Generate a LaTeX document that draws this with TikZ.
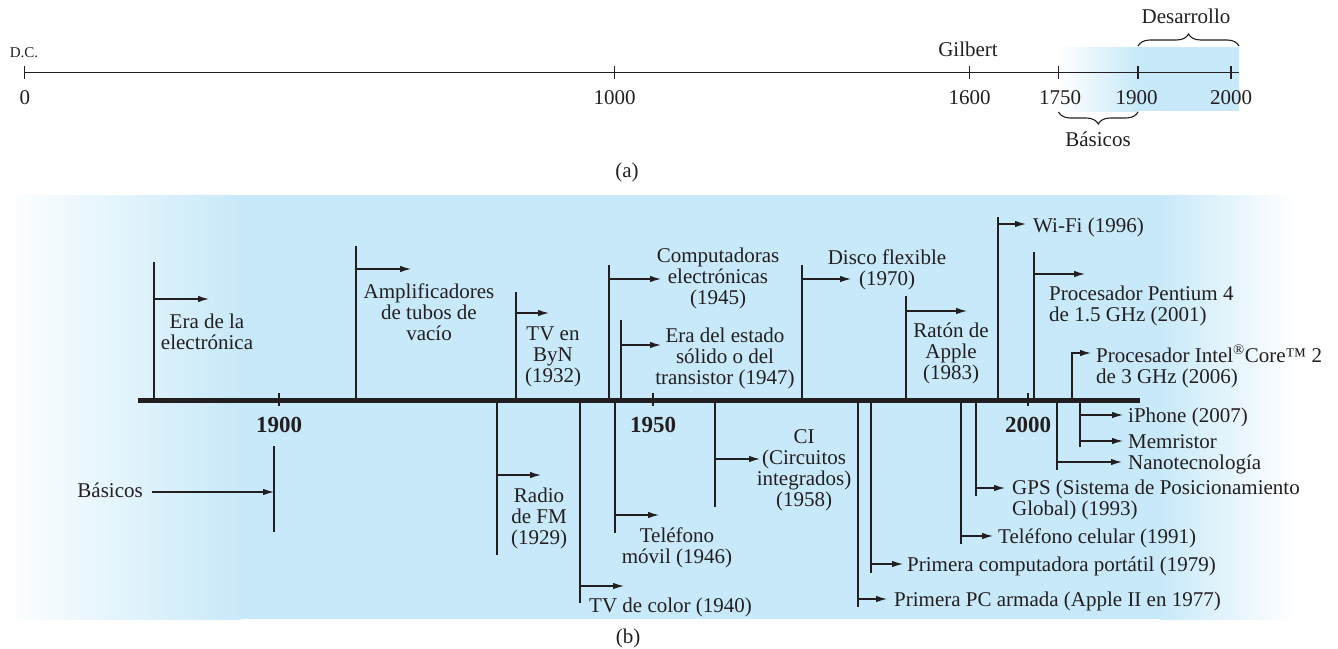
\documentclass[tikz,border=0pt]{standalone}
\usepackage{fontspec}
\setmainfont{Liberation Serif}
\usetikzlibrary{arrows.meta,decorations.pathreplacing}
\definecolor{panelblue}{RGB}{200,233,249}
\definecolor{ink}{RGB}{35,31,32}
\tikzset{
  evline/.style={line width=1.2pt, draw=ink},
  evarrow/.style={line width=1.2pt, draw=ink, -{Latex[length=11pt,width=6.5pt]}},
  lbl/.style={font=\fontsize{21}{21}\selectfont, text=ink, inner sep=0pt, align=center, anchor=base},
  lbll/.style={font=\fontsize{21}{21}\selectfont, text=ink, inner sep=0pt, align=left, anchor=base west},
  yearlbl/.style={font=\fontsize{23}{23}\selectfont\bfseries, text=ink, inner sep=0pt, anchor=base},
  thinaxis/.style={line width=1.1pt, draw=ink},
  thickaxis/.style={line width=4.3pt, draw=ink},
  tickmark/.style={line width=1.1pt, draw=ink},
  bracesty/.style={line width=1.1pt, draw=ink, decorate, decoration={brace, amplitude=12pt}}
}
\begin{document}
\begin{tikzpicture}[x=1pt, y=-1pt]
\useasboundingbox (0,0) rectangle (1338,648);
\fill[white] (0,0) rectangle (1338,648);

% ---------- (a) ----------
\shade[left color=white, right color=panelblue] (1058,47) rectangle (1138.5,111);
\fill[panelblue] (1138,47) rectangle (1239,111);

\coordinate (a0) at (24.8,72.7);
\coordinate (aend) at (1239,72.7);
\draw[thinaxis] (a0) -- (aend);
\foreach \n/\x in {t0/24.8, t1000/614.5, t1600/969.5, t1750/1058.5, t1900/1138, t2000/1231}{
  \coordinate (\n u) at (\x,66);
  \coordinate (\n d) at (\x,79);
  \draw[tickmark] (\n u) -- (\n d);
}
\node[font=\fontsize{15}{15}\selectfont, text=ink, inner sep=0pt, anchor=base] (dc) at (24,57) {D.C.};
\node[lbl] (n0) at (24.8,104) {0};
\node[lbl] (n1000) at (614.5,104) {1000};
\node[lbl] (n1600) at (969.5,104) {1600};
\node[lbl] (n1750) at (1060,104) {1750};
\node[lbl] (n1900) at (1136.5,104) {1900};
\node[lbl] (n2000) at (1231,104) {2000};
\node[lbl] (gil) at (968,56) {Gilbert};

\coordinate (desL) at (1138,46);
\coordinate (desR) at (1239,46);
\draw[bracesty] (desL) -- (desR);
\node[lbl] (des) at (1186,23) {Desarrollo};
\coordinate (basL) at (1058.5,112);
\coordinate (basR) at (1138,112);
\draw[bracesty] (basR) -- (basL);
\node[lbl] (bas) at (1098,146) {Básicos};
\node[lbl] (cap a) at (627,177) {(a)};

% ---------- (b) background ----------
\shade[left color=white, right color=panelblue] (0,195) rectangle (240.5,619);
\fill[panelblue] (240,195) rectangle (1160.5,619);
\shade[left color=panelblue, right color=white] (1160,195) rectangle (1295,619);

% ---------- events above the axis ----------
% Era de la electronica
\coordinate (e1b) at (154,401); \coordinate (e1t) at (154,262);
\coordinate (e1a) at (154,299); \coordinate (e1h) at (209,299);
\draw[evline] (e1b) -- (e1t); \draw[evarrow] (e1a) -- (e1h);
\node[lbl] (e1) at (207,349) {Era de la\\electrónica};
% Amplificadores
\coordinate (e2b) at (356,401); \coordinate (e2t) at (356,246);
\coordinate (e2a) at (356,269); \coordinate (e2h) at (411,269);
\draw[evline] (e2b) -- (e2t); \draw[evarrow] (e2a) -- (e2h);
\node[lbl] (e2) at (429,340) {Amplificadores\\de tubos de\\vacío};
% TV en ByN
\coordinate (e3b) at (516,401); \coordinate (e3t) at (516,292);
\coordinate (e3a) at (516,313); \coordinate (e3h) at (549,313);
\draw[evline] (e3b) -- (e3t); \draw[evarrow] (e3a) -- (e3h);
\node[lbl] (e3) at (553,382) {TV en\\ByN\\(1932)};
% Computadoras
\coordinate (e4b) at (609,401); \coordinate (e4t) at (609,265);
\coordinate (e4a) at (609,279); \coordinate (e4h) at (661,279);
\draw[evline] (e4b) -- (e4t); \draw[evarrow] (e4a) -- (e4h);
\node[lbl] (e4) at (718,304) {Computadoras\\electrónicas\\(1945)};
% Estado solido
\coordinate (e5b) at (621,401); \coordinate (e5t) at (621,320);
\coordinate (e5a) at (621,345); \coordinate (e5h) at (661,345);
\draw[evline] (e5b) -- (e5t); \draw[evarrow] (e5a) -- (e5h);
\node[lbl] (e5) at (725,384) {Era del estado\\sólido o del\\transistor (1947)};
% Disco flexible
\coordinate (e6b) at (802,401); \coordinate (e6t) at (802,265);
\coordinate (e6a) at (802,279); \coordinate (e6h) at (851,279);
\draw[evline] (e6b) -- (e6t); \draw[evarrow] (e6a) -- (e6h);
\node[lbl] (e6) at (887,285) {Disco flexible\\(1970)};
% Raton de Apple
\coordinate (e7b) at (906,401); \coordinate (e7t) at (906,296);
\coordinate (e7a) at (906,311); \coordinate (e7h) at (967,311);
\draw[evline] (e7b) -- (e7t); \draw[evarrow] (e7a) -- (e7h);
\node[lbl] (e7) at (951,379) {Ratón de\\Apple\\(1983)};
% Wi-Fi
\coordinate (e8b) at (998,401); \coordinate (e8t) at (998,217);
\coordinate (e8a) at (998,224); \coordinate (e8h) at (1026,224);
\draw[evline] (e8b) -- (e8t); \draw[evarrow] (e8a) -- (e8h);
\node[lbll] (e8) at (1033,232) {Wi-Fi (1996)};
% Pentium
\coordinate (e9b) at (1034,401); \coordinate (e9t) at (1034,252);
\coordinate (e9a) at (1034,274); \coordinate (e9h) at (1085,274);
\draw[evline] (e9b) -- (e9t); \draw[evarrow] (e9a) -- (e9h);
\node[lbll] (e9) at (1049,321) {Procesador Pentium 4\\de 1.5 GHz (2001)};
% Intel Core 2
\coordinate (e10b) at (1072,401); \coordinate (e10h) at (1091,353);
\draw[evarrow] (e10b) |- (e10h);
\node[lbll] (e10) at (1096,383) {Procesador Intel\textsuperscript{®}Core™ 2\\de 3 GHz (2006)};

% ---------- events below the axis ----------
% Basicos
\coordinate (b1t) at (274,446); \coordinate (b1d) at (274,532);
\coordinate (b1s) at (152,492); \coordinate (b1h) at (274,492);
\draw[evline] (b1t) -- (b1d); \draw[evarrow] (b1s) -- (b1h);
\node[lbl, anchor=base east] (b1) at (143,497) {Básicos};
% Radio de FM
\coordinate (b2t) at (497,401); \coordinate (b2d) at (497,555);
\coordinate (b2a) at (497,475); \coordinate (b2h) at (541,475);
\draw[evline] (b2t) -- (b2d); \draw[evarrow] (b2a) -- (b2h);
\node[lbl] (b2) at (539,544) {Radio\\de FM\\(1929)};
% TV de color
\coordinate (b3t) at (580,401); \coordinate (b3d) at (580,603);
\coordinate (b3a) at (580,586); \coordinate (b3h) at (624,586);
\draw[evline] (b3t) -- (b3d); \draw[evarrow] (b3a) -- (b3h);
\node[lbll] (b3) at (589,612) {TV de color (1940)};
% Telefono movil
\coordinate (b4t) at (615,401); \coordinate (b4d) at (615,533);
\coordinate (b4a) at (615,515); \coordinate (b4h) at (659,515);
\draw[evline] (b4t) -- (b4d); \draw[evarrow] (b4a) -- (b4h);
\node[lbl] (b4) at (677,563) {Teléfono\\móvil (1946)};
% CI
\coordinate (b5t) at (715,401); \coordinate (b5d) at (715,507);
\coordinate (b5a) at (715,459); \coordinate (b5h) at (760,459);
\draw[evline] (b5t) -- (b5d); \draw[evarrow] (b5a) -- (b5h);
\node[lbl] (b5) at (804,506) {CI\\(Circuitos\\integrados)\\(1958)};
% Primera PC armada
\coordinate (b6t) at (858,401); \coordinate (b6d) at (858,607);
\coordinate (b6a) at (858,599); \coordinate (b6h) at (887,599);
\draw[evline] (b6t) -- (b6d); \draw[evarrow] (b6a) -- (b6h);
\node[lbll] (b6) at (894,606) {Primera PC armada (Apple II en 1977)};
% Primera computadora portatil
\coordinate (b7t) at (871,401); \coordinate (b7d) at (871,573);
\coordinate (b7a) at (871,564); \coordinate (b7h) at (903,564);
\draw[evline] (b7t) -- (b7d); \draw[evarrow] (b7a) -- (b7h);
\node[lbll] (b7) at (907,571) {Primera computadora portátil (1979)};
% Telefono celular
\coordinate (b8t) at (961,401); \coordinate (b8d) at (961,544);
\coordinate (b8a) at (961,536); \coordinate (b8h) at (993,536);
\draw[evline] (b8t) -- (b8d); \draw[evarrow] (b8a) -- (b8h);
\node[lbll] (b8) at (998,543) {Teléfono celular (1991)};
% GPS
\coordinate (b9t) at (976,401); \coordinate (b9d) at (976,496);
\coordinate (b9a) at (976,488); \coordinate (b9h) at (1005,488);
\draw[evline] (b9t) -- (b9d); \draw[evarrow] (b9a) -- (b9h);
\node[lbll] (b9) at (1012,515) {GPS (Sistema de Posicionamiento\\Global) (1993)};
% Nanotecnologia
\coordinate (b10t) at (1057,401); \coordinate (b10d) at (1057,470);
\coordinate (b10a) at (1057,462); \coordinate (b10h) at (1122,462);
\draw[evline] (b10t) -- (b10d); \draw[evarrow] (b10a) -- (b10h);
\node[lbll] (b10) at (1128,469) {Nanotecnología};
% iPhone / Memristor
\coordinate (b11t) at (1080,401); \coordinate (b11d) at (1080,447);
\coordinate (b11a) at (1080,415); \coordinate (b11h) at (1123,415);
\coordinate (b12a) at (1080,441); \coordinate (b12h) at (1123,441);
\draw[evline] (b11t) -- (b11d);
\draw[evarrow] (b11a) -- (b11h);
\draw[evarrow] (b12a) -- (b12h);
\node[lbll] (b11) at (1128,422) {iPhone (2007)};
\node[lbll] (b12) at (1128,448) {Memristor};

% ---------- main axis ----------
\coordinate (axL) at (138,400.5);
\coordinate (axR) at (1140,400.5);
\draw[thickaxis] (axL) -- (axR);
\foreach \n/\x in {y1900/279, y1950/653, y2000/1028}{
  \coordinate (\n u) at (\x,393);
  \coordinate (\n d) at (\x,406);
  \draw[tickmark] (\n u) -- (\n d);
}
\node[yearlbl] (l1900) at (279,432) {1900};
\node[yearlbl] (l1950) at (653,432) {1950};
\node[yearlbl] (l2000) at (1028,432) {2000};

\node[lbl] (cap b) at (628,643) {(b)};
\end{tikzpicture}
\end{document}
